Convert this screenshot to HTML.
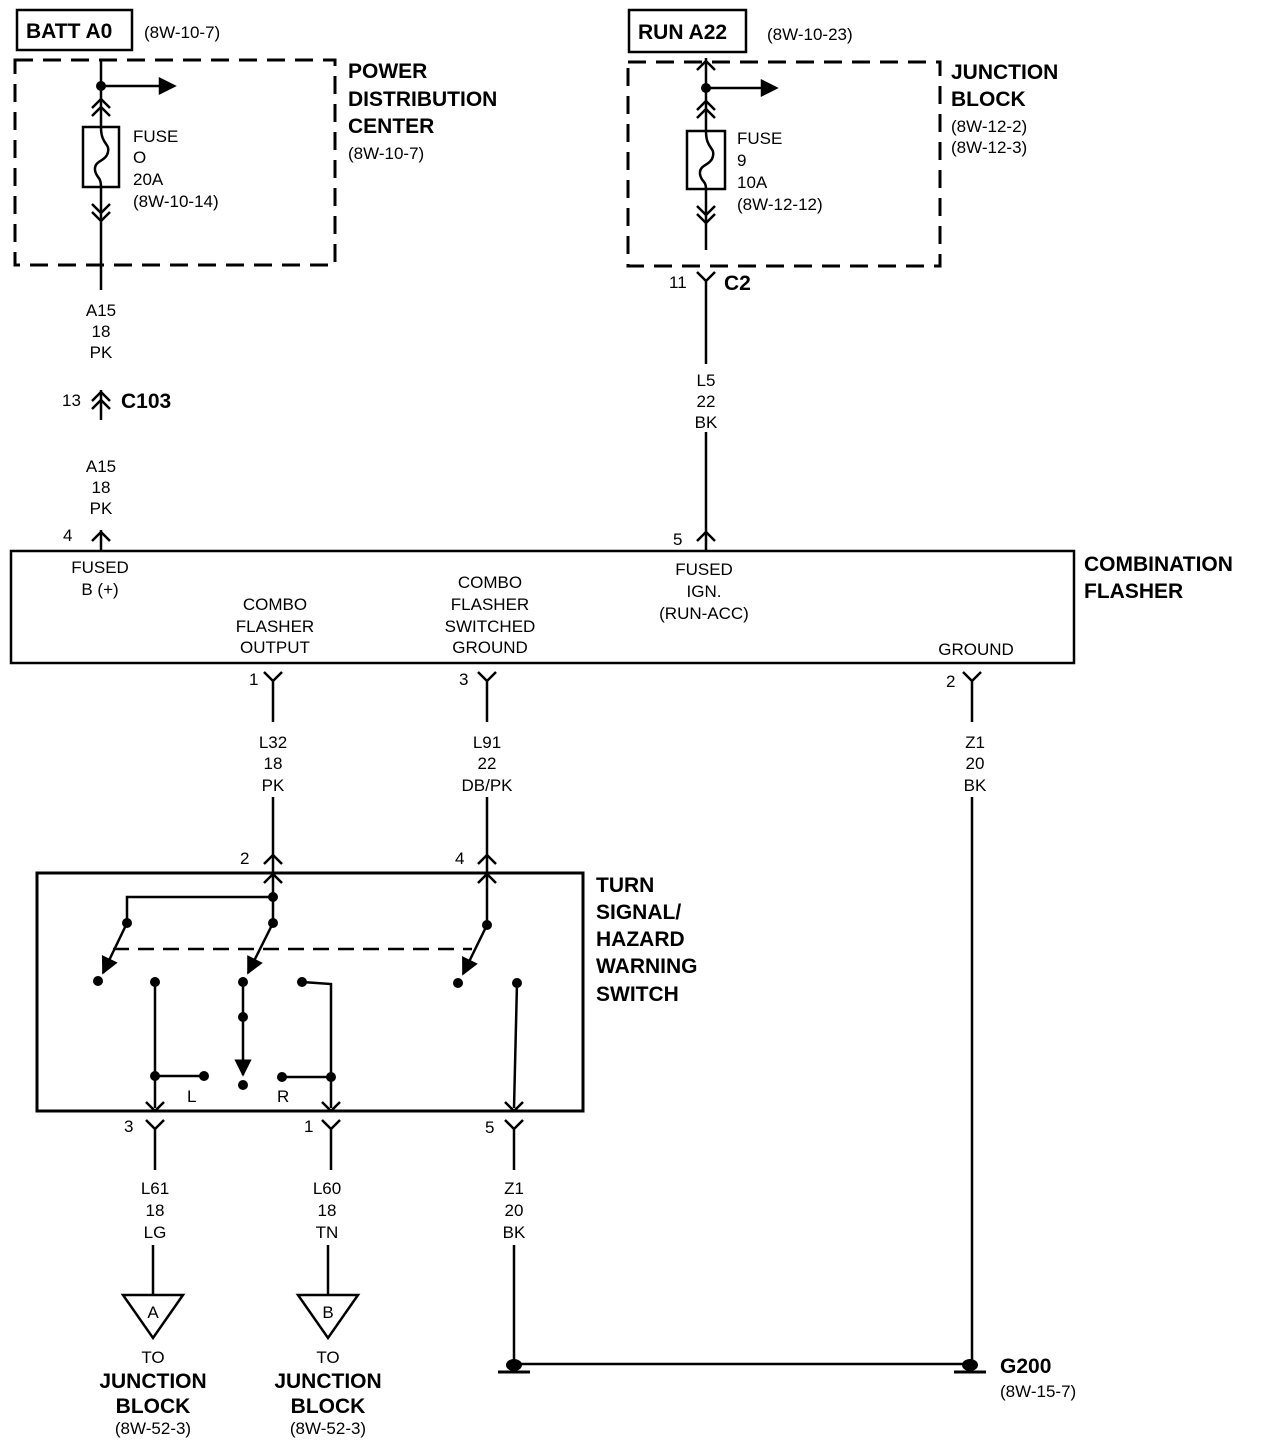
<!DOCTYPE html>
<html><head><style>
html,body{margin:0;padding:0;background:#fff}
svg{display:block}
text{font-family:"Liberation Sans",Arial,sans-serif;fill:#000}
.s{font-size:17px}
.b{font-size:21px;font-weight:bold}
.m{text-anchor:middle}
</style></head><body>
<svg width="1264" height="1446" viewBox="0 0 1264 1446" xmlns="http://www.w3.org/2000/svg">
<defs>
<marker id="ah" viewBox="0 0 10 10" refX="9" refY="5" markerWidth="7" markerHeight="7" orient="auto"><path d="M0,0L10,5L0,10z" fill="#000"/></marker>
</defs>
<g stroke="#000" stroke-width="2.5" fill="none">
<!-- top left -->
<rect x="17" y="10" width="115" height="40"/>
<rect x="15" y="60" width="320" height="205" stroke-dasharray="18,10" stroke-width="3"/>
<line x1="101" y1="60" x2="101" y2="128"/>
<line x1="101" y1="86" x2="160" y2="86"/>
<path d="M160,79L174,86L160,93z" fill="#000"/>
<path d="M92,108L101,99L110,108M92,116L101,107L110,116"/>
<rect x="83" y="127" width="36" height="60"/>
<path d="M101,127C101,145 110,143 108,152C106,162 94,160 95,170C96,178 101,176 101,187"/>
<line x1="101" y1="187" x2="101" y2="290"/>
<path d="M92,204L101,213L110,204M92,212L101,221L110,212"/>
<line x1="101" y1="390" x2="101" y2="420"/>
<path d="M92,401L101,392L110,401M92,409L101,400L110,409"/>
<line x1="101" y1="530" x2="101" y2="550"/>
<path d="M92,541L101,532L110,541"/>
<!-- top right -->
<rect x="629" y="10" width="117" height="42"/>
<rect x="628" y="62" width="312" height="204" stroke-dasharray="18,10" stroke-width="3"/>
<line x1="706" y1="58" x2="706" y2="131"/>
<path d="M697,70L706,61L715,70"/>
<line x1="706" y1="88" x2="762" y2="88"/>
<path d="M762,81L776,88L762,95z" fill="#000"/>
<path d="M697,110L706,101L715,110M697,118L706,109L715,118"/>
<rect x="687" y="131" width="38" height="58"/>
<path d="M706,131C706,149 715,147 713,156C711,166 699,164 700,174C701,182 706,180 706,189"/>
<line x1="706" y1="189" x2="706" y2="250"/>
<path d="M697,206L706,215L715,206M697,214L706,223L715,214"/>
<path d="M697,272L706,281L715,272M706,281L706,364"/>
<line x1="706" y1="432" x2="706" y2="550"/>
<path d="M697,541L706,532L715,541"/>
<!-- flasher -->
<rect x="11" y="551" width="1063" height="112"/>
<path d="M264,672L273,681L282,672M273,681L273,722"/>
<path d="M478,672L487,681L496,672M487,681L487,722"/>
<path d="M963,672L972,681L981,672M972,681L972,722"/>
<line x1="273" y1="797" x2="273" y2="873"/>
<line x1="487" y1="797" x2="487" y2="873"/>
<path d="M264,864L273,855L282,864M264,883L273,874L282,883"/>
<path d="M478,864L487,855L496,864M478,883L487,874L496,883"/>
<line x1="972" y1="797" x2="972" y2="1360"/>
<!-- switch -->
<rect x="37" y="873" width="546" height="238" stroke-width="3"/>
<path d="M273,873L273,923M273,897L127,897L127,923"/>
<line x1="127" y1="923" x2="103" y2="973" marker-end="url(#ah)"/>
<line x1="273" y1="923" x2="248" y2="973" marker-end="url(#ah)"/>
<line x1="487" y1="873" x2="487" y2="925"/>
<line x1="487" y1="925" x2="463" y2="974" marker-end="url(#ah)"/>
<line x1="113" y1="949" x2="472" y2="949" stroke-dasharray="16,9"/>
<path d="M155,982L155,1108M155,1076L204,1076"/>
<path d="M146,1102L155,1111L164,1102"/>
<path d="M243,982L243,1017L243,1075" marker-end="url(#ah)"/>
<path d="M302,982L331,984L331,1108M331,1077L282,1077"/>
<path d="M322,1102L331,1111L340,1102"/>
<path d="M517,983L514,1108"/>
<path d="M505,1102L514,1111L523,1102"/>
<!-- bottom pins -->
<path d="M146,1120L155,1129L164,1120M155,1129L155,1170"/>
<path d="M322,1120L331,1129L340,1120M331,1129L331,1170"/>
<path d="M505,1120L514,1129L523,1120M514,1129L514,1170"/>
<line x1="153" y1="1245" x2="153" y2="1295"/>
<line x1="328" y1="1245" x2="328" y2="1295"/>
<line x1="514" y1="1245" x2="514" y2="1360"/>
<path d="M123,1295L183,1295L153,1338z"/>
<path d="M298,1295L358,1295L328,1338z"/>
<line x1="514" y1="1364" x2="970" y2="1364"/>
<line x1="498" y1="1372" x2="530" y2="1372" stroke-width="3"/>
<line x1="954" y1="1372" x2="986" y2="1372" stroke-width="3"/>
</g>
<g fill="#000">
<circle cx="101" cy="86" r="5"/><circle cx="706" cy="88" r="5"/>
<circle cx="273" cy="897" r="5"/><circle cx="127" cy="923" r="5"/><circle cx="273" cy="923" r="5"/><circle cx="487" cy="925" r="5"/>
<circle cx="98" cy="981" r="5"/><circle cx="155" cy="982" r="5"/><circle cx="243" cy="982" r="5"/><circle cx="302" cy="982" r="5"/><circle cx="458" cy="983" r="5"/><circle cx="517" cy="983" r="5"/>
<circle cx="243" cy="1017" r="5"/><circle cx="155" cy="1076" r="5"/><circle cx="204" cy="1076" r="5"/><circle cx="243" cy="1085" r="5"/><circle cx="282" cy="1077" r="5"/><circle cx="331" cy="1077" r="5"/>
<ellipse cx="514" cy="1365" rx="8" ry="6"/><ellipse cx="970" cy="1365" rx="8" ry="6"/>
</g>
<text class="b" x="26" y="38">BATT A0</text>
<text class="s" x="144" y="38">(8W-10-7)</text>
<text class="b" x="348" y="78">POWER</text>
<text class="b" x="348" y="106">DISTRIBUTION</text>
<text class="b" x="348" y="133">CENTER</text>
<text class="s" x="348" y="159">(8W-10-7)</text>
<text class="s" x="133" y="142">FUSE</text><text class="s" x="133" y="163">O</text><text class="s" x="133" y="185">20A</text><text class="s" x="133" y="207">(8W-10-14)</text>
<g class="s m">
<text x="101" y="316">A15</text><text x="101" y="337">18</text><text x="101" y="358">PK</text>
<text x="101" y="472">A15</text><text x="101" y="493">18</text><text x="101" y="514">PK</text>
<text x="706" y="386">L5</text><text x="706" y="407">22</text><text x="706" y="428">BK</text>
<text x="273" y="748">L32</text><text x="273" y="769">18</text><text x="273" y="791">PK</text>
<text x="487" y="748">L91</text><text x="487" y="769">22</text><text x="487" y="791">DB/PK</text>
<text x="975" y="748">Z1</text><text x="975" y="769">20</text><text x="975" y="791">BK</text>
<text x="155" y="1194">L61</text><text x="155" y="1216">18</text><text x="155" y="1238">LG</text>
<text x="327" y="1194">L60</text><text x="327" y="1216">18</text><text x="327" y="1238">TN</text>
<text x="514" y="1194">Z1</text><text x="514" y="1216">20</text><text x="514" y="1238">BK</text>
<text x="100" y="573">FUSED</text><text x="100" y="595">B (+)</text>
<text x="275" y="610">COMBO</text><text x="275" y="632">FLASHER</text><text x="275" y="653">OUTPUT</text>
<text x="490" y="588">COMBO</text><text x="490" y="610">FLASHER</text><text x="490" y="632">SWITCHED</text><text x="490" y="653">GROUND</text>
<text x="704" y="575">FUSED</text><text x="704" y="597">IGN.</text><text x="704" y="619">(RUN-ACC)</text>
<text x="976" y="655">GROUND</text>
<text x="153" y="1318">A</text><text x="328" y="1318">B</text>
<text x="153" y="1363">TO</text><text x="153" y="1434">(8W-52-3)</text>
<text x="328" y="1363">TO</text><text x="328" y="1434">(8W-52-3)</text>
</g>
<g class="b m">
<text x="153" y="1388">JUNCTION</text><text x="153" y="1413">BLOCK</text>
<text x="328" y="1388">JUNCTION</text><text x="328" y="1413">BLOCK</text>
</g>
<text class="s" x="62" y="406">13</text>
<text class="b" x="121" y="408">C103</text>
<text class="s" x="63" y="541">4</text>
<text class="b" x="638" y="39">RUN A22</text>
<text class="s" x="767" y="40">(8W-10-23)</text>
<text class="b" x="951" y="79">JUNCTION</text>
<text class="b" x="951" y="106">BLOCK</text>
<text class="s" x="951" y="132">(8W-12-2)</text>
<text class="s" x="951" y="153">(8W-12-3)</text>
<text class="s" x="737" y="144">FUSE</text><text class="s" x="737" y="166">9</text><text class="s" x="737" y="188">10A</text><text class="s" x="737" y="210">(8W-12-12)</text>
<text class="s" x="669" y="288">11</text>
<text class="b" x="724" y="290">C2</text>
<text class="s" x="673" y="545">5</text>
<text class="b" x="1084" y="571">COMBINATION</text>
<text class="b" x="1084" y="598">FLASHER</text>
<text class="s" x="249" y="685">1</text><text class="s" x="459" y="685">3</text><text class="s" x="946" y="687">2</text>
<text class="s" x="240" y="864">2</text><text class="s" x="455" y="864">4</text>
<text class="b" x="596" y="892">TURN</text>
<text class="b" x="596" y="919">SIGNAL/</text>
<text class="b" x="596" y="946">HAZARD</text>
<text class="b" x="596" y="973">WARNING</text>
<text class="b" x="596" y="1001">SWITCH</text>
<text class="s" x="187" y="1102">L</text><text class="s" x="277" y="1102">R</text>
<text class="s" x="124" y="1132">3</text><text class="s" x="304" y="1132">1</text><text class="s" x="485" y="1133">5</text>
<text class="b" x="1000" y="1373">G200</text>
<text class="s" x="1000" y="1397">(8W-15-7)</text>
</svg>
</body></html>
